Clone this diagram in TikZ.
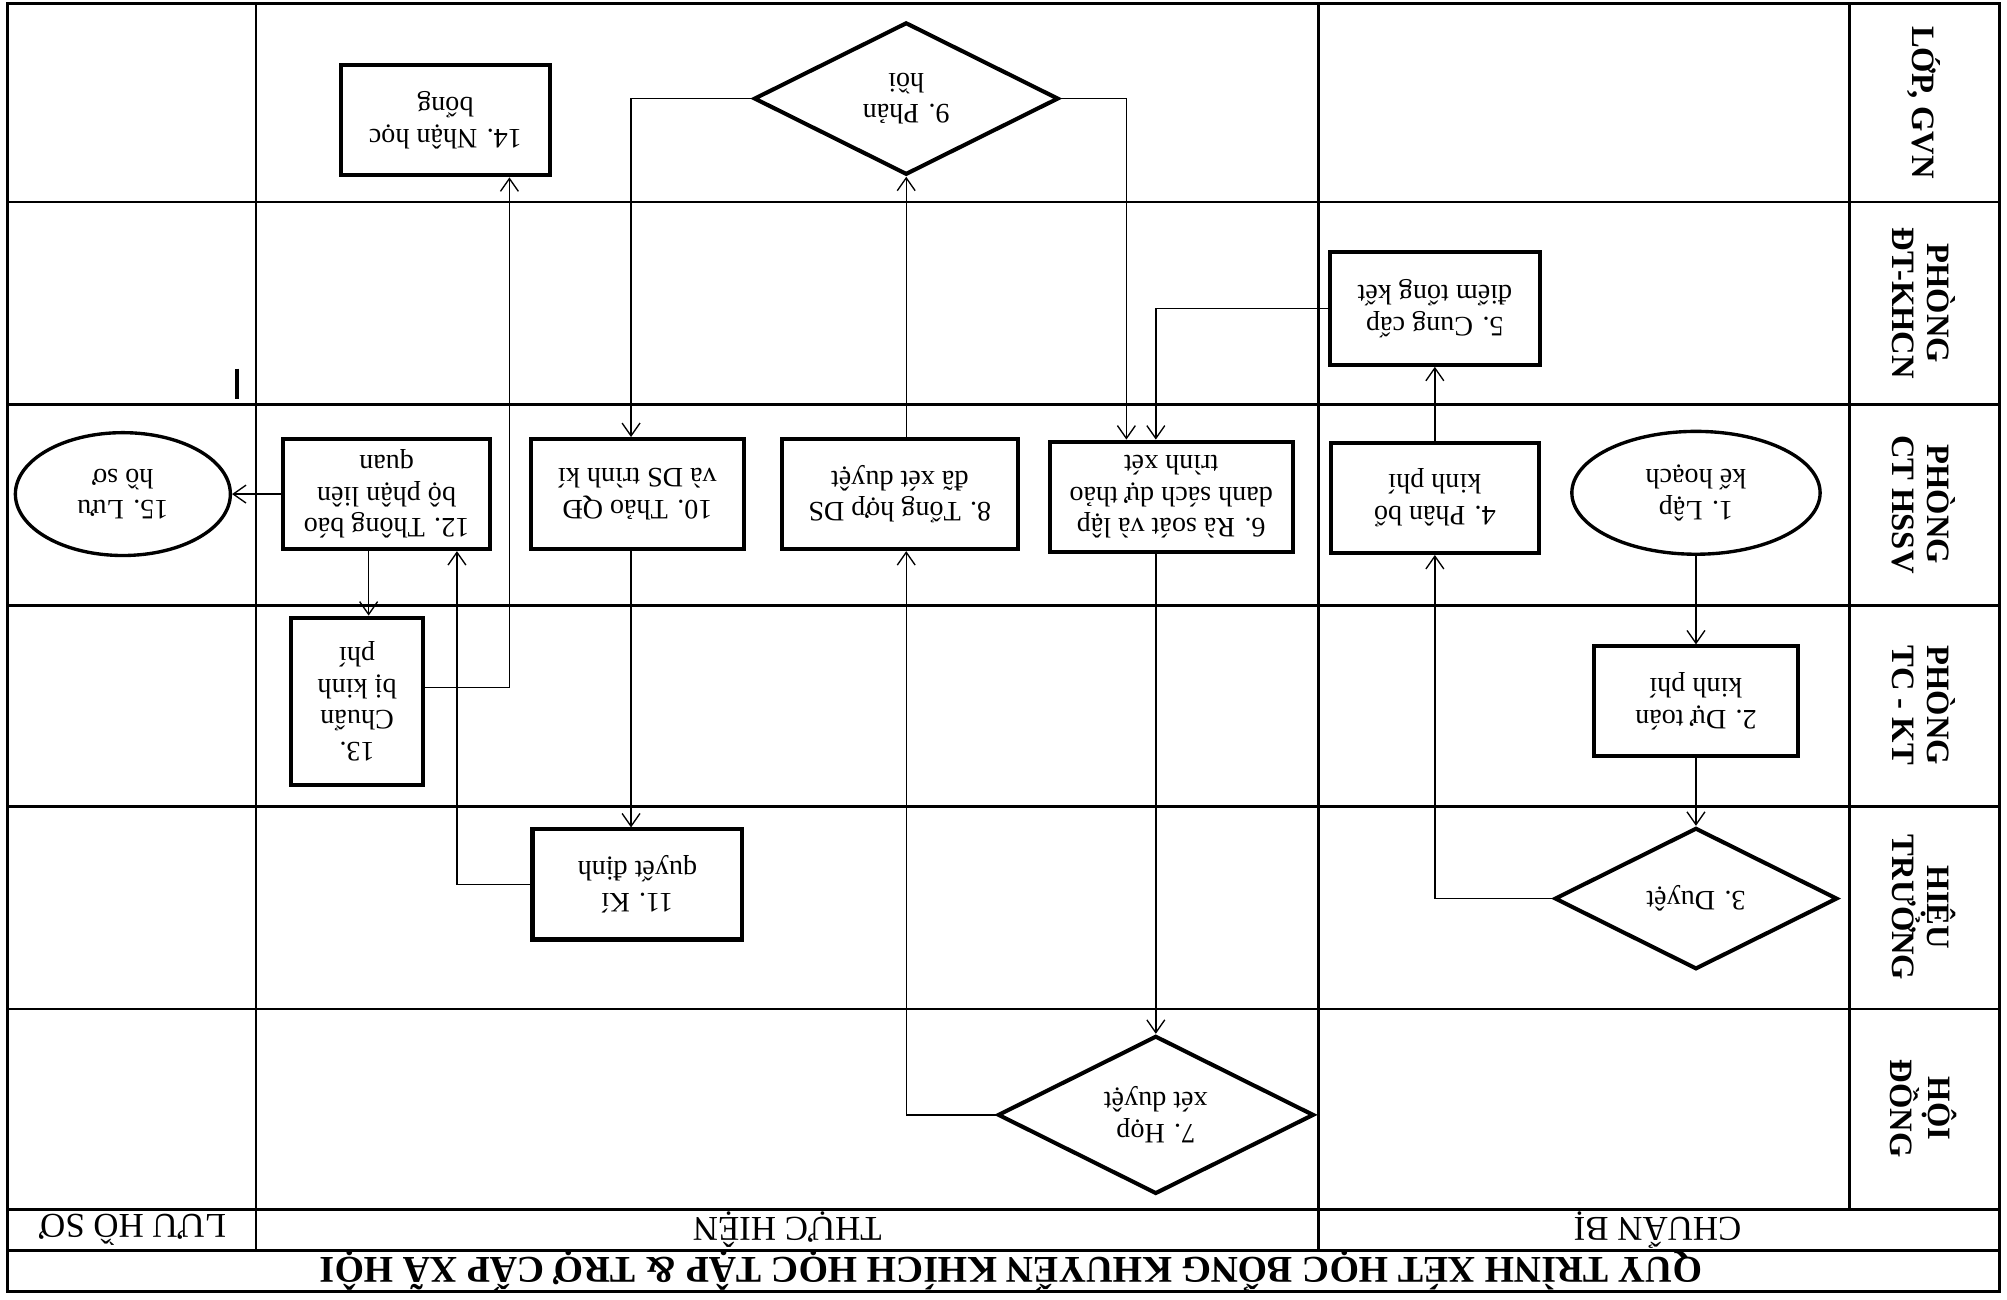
\documentclass[tikz,border=0pt]{standalone}
\usepackage{fontspec}
\setmainfont{Liberation Serif}
\usetikzlibrary{shapes.geometric,arrows.meta}

\begin{document}
\begin{tikzpicture}[x=-0.02cm, y=0.02cm, rotate=180, transform shape,
  font=\fontsize{12.5}{14}\selectfont,
  box/.style={draw, line width=1.8pt, align=center, inner sep=1pt, minimum width=#1, minimum height=1.72cm},
  box/.default=3.26cm,
  oval/.style={draw, ellipse, line width=1.5pt, align=center, inner sep=0pt, minimum width=#1, minimum height=1.92cm},
  dec/.style={draw, diamond, aspect=2, line width=1.8pt, align=center, inner sep=0pt, minimum width=#1, minimum height=0.5*#1},
  lane/.style={rotate=90, align=center, font=\fontsize{14.5}{15.5}\selectfont\bfseries},
  phase/.style={font=\fontsize{15.5}{17}\selectfont},
  grid/.style={line width=1pt},
  arr/.style={-{Straight Barb[length=2mm, width=2.8mm]}, line width=0.6pt}]
  \useasboundingbox (0,0) rectangle (1568,1015);
  % frame, lanes and phases
  \draw[line width=1.2pt] (6,3) rectangle (1562,1009);
  \draw[grid] (6,158) -- (1562,158) (6,316) -- (1562,316) (6,473) -- (1562,473) (6,630) -- (1562,630);
  \draw[grid] (6,788) -- (1562,788) (6,945) -- (1562,945) (6,977) -- (1562,977);
  \draw[grid] (200,3) -- (200,977) (1030,3) -- (1030,977) (1445,3) -- (1445,945);
  \draw[line width=1.6pt] (185,288) -- (185,312);
  \node[font=\fontsize{16.8}{18}\selectfont\bfseries] (title) at (790,993) {QUY TRÌNH XÉT HỌC BỔNG KHUYẾN KHÍCH HỌC TẬP \& TRỢ CẤP XÃ HỘI};
  \node[phase] (prep) at (1295,961) {CHUẨN BỊ};
  \node[phase] (exec) at (615,961) {THỰC HIỆN};
  \node[phase] (store) at (104,961) {LƯU HỒ SƠ};
  \node[lane] (gvn) at (1503,80) {LỚP, GVN};
  \node[lane] (dt) at (1503,237) {PHÒNG\\ĐT-KHCN};
  \node[lane] (ct) at (1503,394) {PHÒNG\\CT HSSV};
  \node[lane] (tc) at (1503,551) {PHÒNG\\TC - KT};
  \node[lane] (ht) at (1503,709) {HIỆU\\TRƯỞNG};
  \node[lane] (hd) at (1503,866) {HỘI\\ĐỒNG};
  % steps
  \node[oval=3.88cm] (plan) at (1325,385) {1. Lập\\kế hoạch};
  \node[box=3.2cm] (estim) at (1325,548) {2. Dự toán\\kinh phí};
  \node[dec=4.42cm] (approve) at (1325,702) {3. Duyệt};
  \node[box] (alloc) at (1121,389) {4. Phân bổ\\kinh phí};
  \node[box=3.28cm, minimum height=1.76cm] (score) at (1121,241) {5. Cung cấp\\điểm tổng kết};
  \node[box=3.8cm] (review) at (915,388) {6. Rà soát và lập\\danh sách dự thảo\\trình xét};
  \node[dec=4.94cm] (council) at (903,871) {7. Họp\\xét duyệt};
  \node[box=3.68cm] (merge) at (703,386) {8. Tổng hợp DS\\đã xét duyệt};
  \node[dec=4.76cm] (feedback) at (708,77) {9. Phản\\hồi};
  \node[box=3.34cm] (draft) at (498,386) {10. Thảo QĐ\\và DS trình kí};
  \node[box=3.28cm] (sign) at (498,691) {11. Kí\\quyết định};
  \node[box=3.24cm] (notify) at (302,386) {12. Thông báo\\bộ phận liên\\quan};
  \node[box=2.06cm, minimum height=2.62cm] (fund) at (279,548) {13.\\Chuẩn\\bị kinh\\phí};
  \node[box] (receive) at (348,94) {14. Nhận học\\bổng};
  \node[oval=3.36cm] (archive) at (96,386) {15. Lưu\\hồ sơ};
  % bends
  \coordinate (b56) at (903,241);
  \coordinate (b96) at (880,77);
  \coordinate (b78) at (708,871);
  \coordinate (b910) at (493,77);
  \coordinate (b1112) at (357,691);
  \coordinate (b1213) at (288,500);
  \coordinate (b1314) at (398,537);
  \draw[arr] (plan) -- (estim);
  \draw[arr] (estim) -- (approve);
  \draw[arr] (approve) -| (alloc);
  \draw[arr] (alloc) -- (score);
  \draw[arr] (score.east) -| (b56 |- review.south);
  \draw[arr] (feedback.west) -| (b96 |- review.south);
  \draw[arr] (b56 |- review.north) -- (council);
  \draw[arr] (council.east) -| (b78 |- merge.north);
  \draw[arr] (b78 |- merge.south) -- (feedback);
  \draw[arr] (feedback.east) -| (b910 |- draft.south);
  \draw[arr] (b910 |- draft.north) -- (b910 |- sign.south);
  \draw[arr] (sign.east) -| (b1112 |- notify.north);
  \draw[arr] (b1213 |- notify.north) -- (b1213 |- fund.south);
  \draw[arr] (notify) -- (archive);
  \draw[arr] (fund.west |- b1314) -| (b1314 |- receive.north);
\end{tikzpicture}
\end{document}
